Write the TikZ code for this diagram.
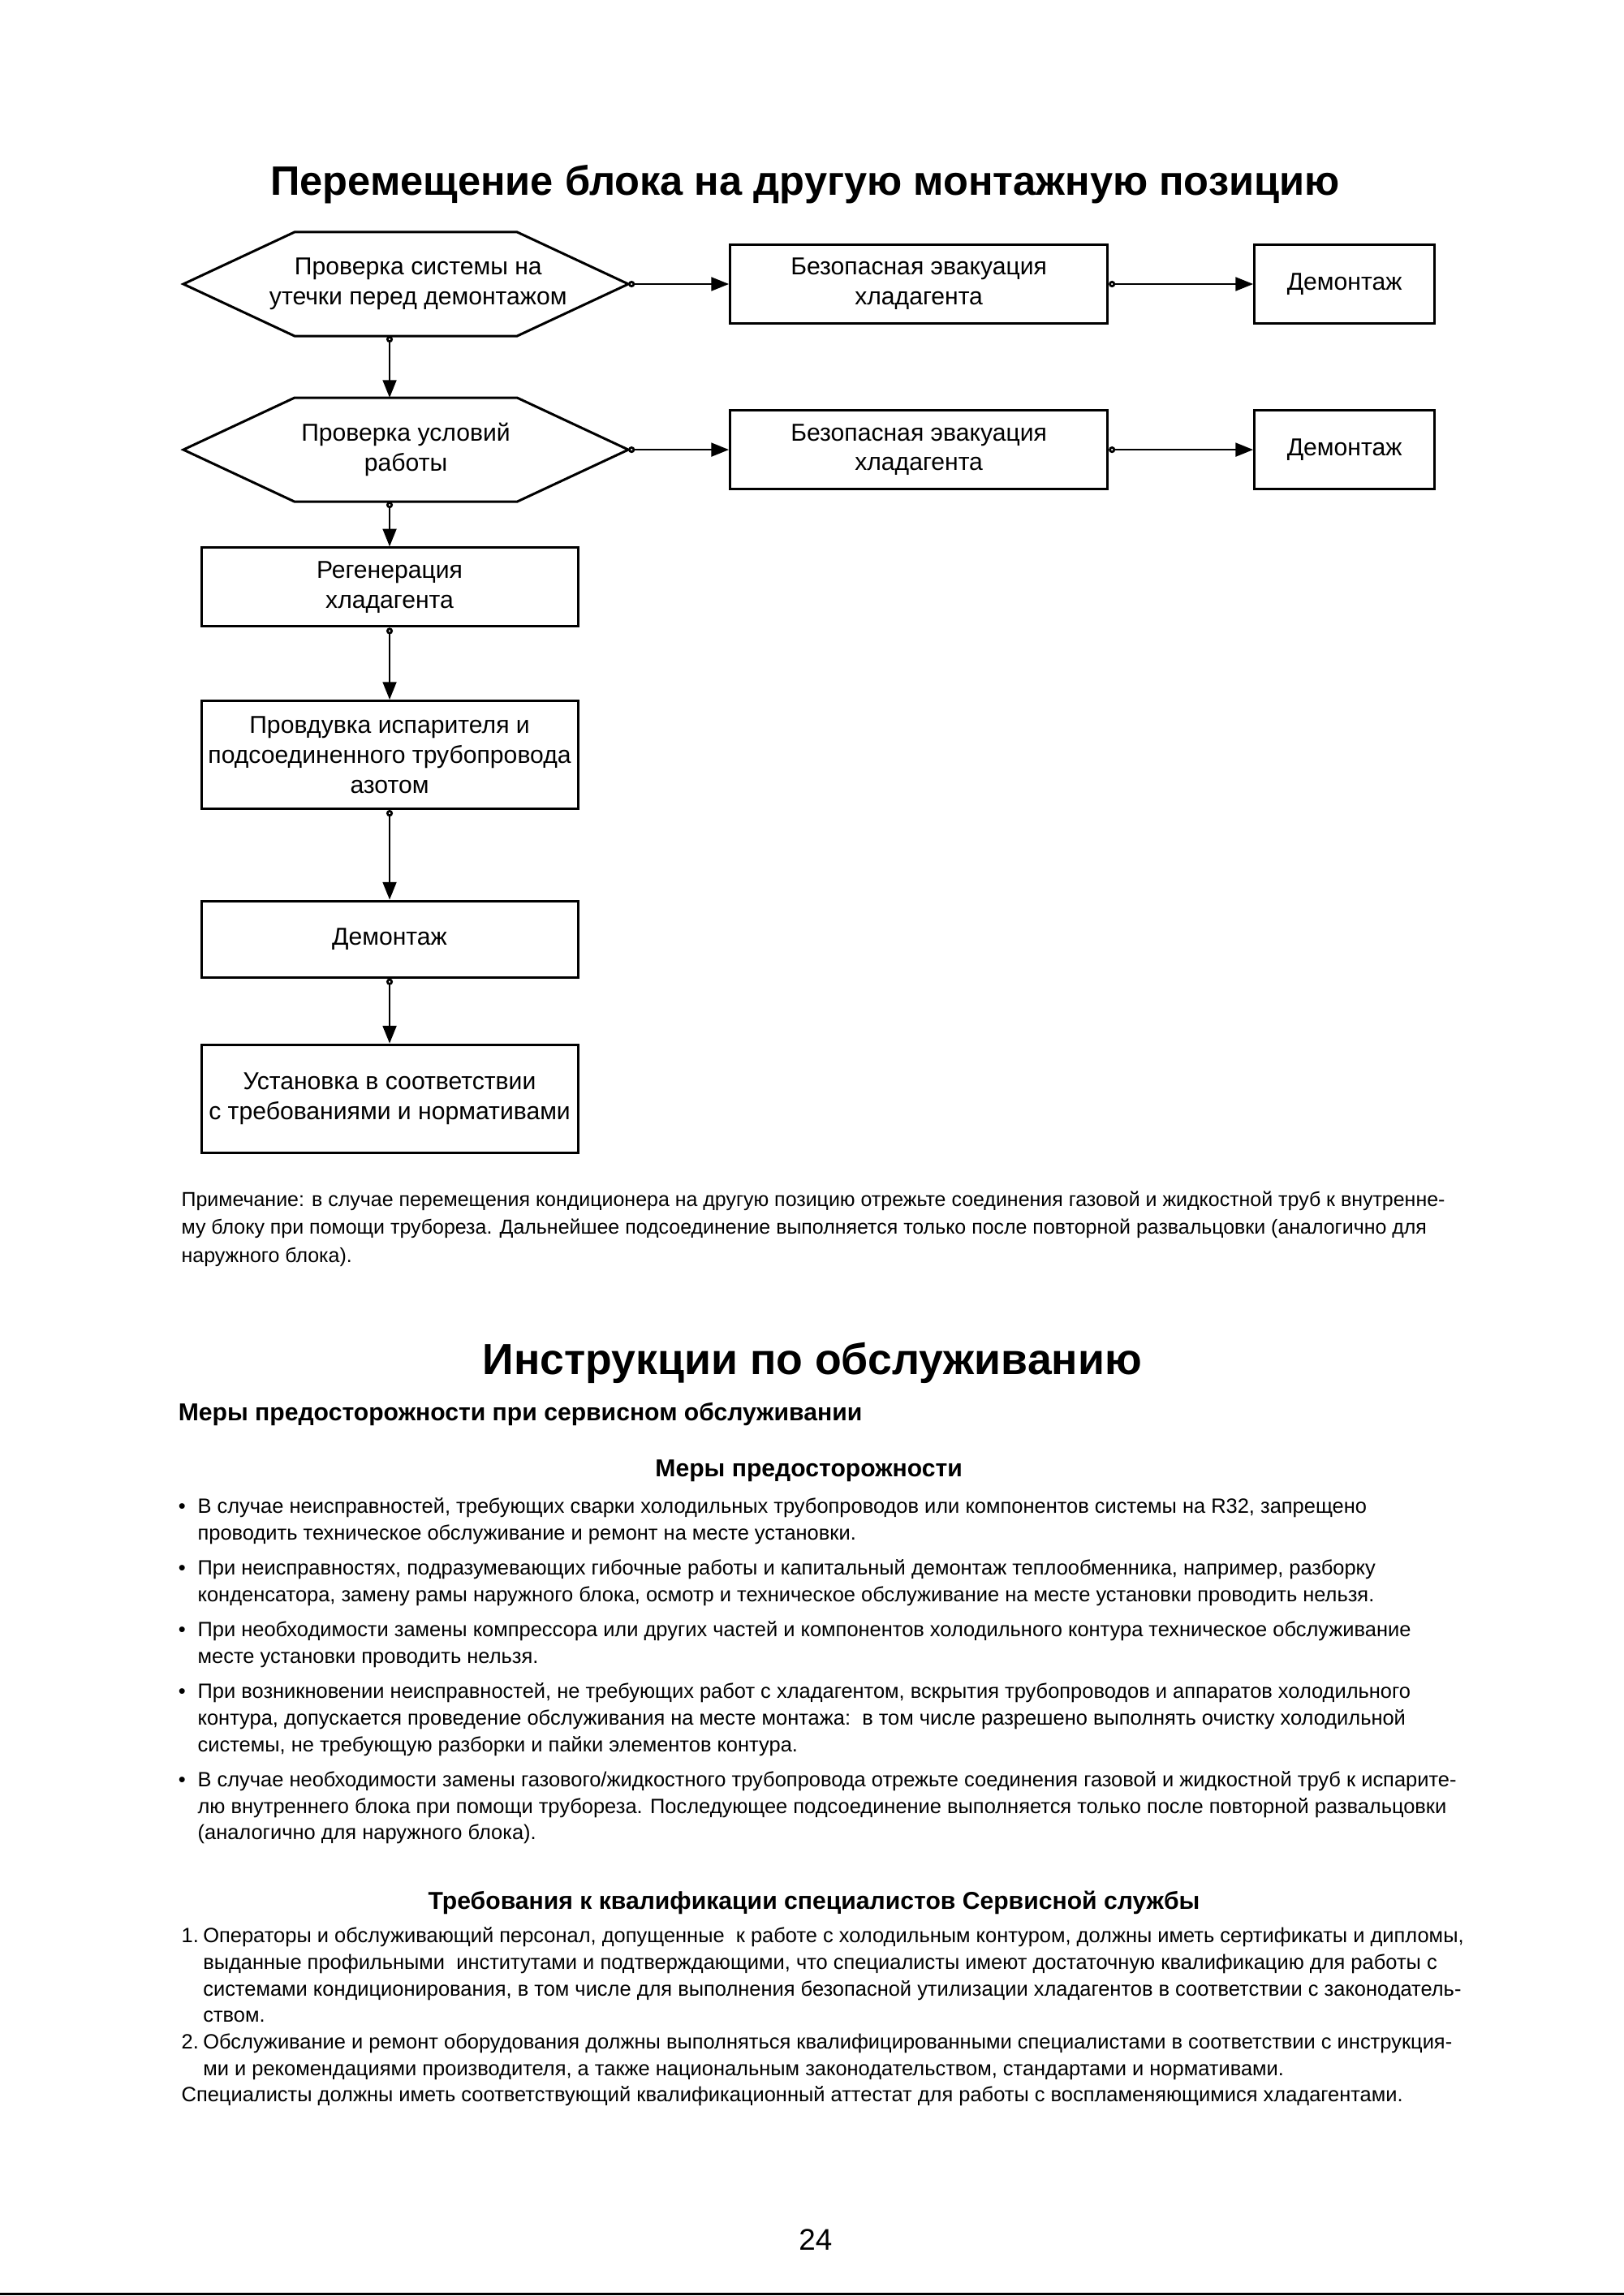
\documentclass[tikz,border=0pt]{standalone}
\usepackage{fontspec}
\setmainfont{Liberation Sans}
\usetikzlibrary{arrows.meta,positioning}

\newcommand{\fcfont}{\fontsize{9}{11}\selectfont}
\newcommand{\txtfont}{\fontsize{7.6}{9.75}\selectfont}
\newcommand{\notefont}{\fontsize{7.45}{10.3}\selectfont}
\newcommand{\bul}{\makebox[2.5mm][l]{\textbullet}}
\newcommand{\ind}{\hspace*{2.5mm}}
\newcommand{\nr}[1]{\makebox[2.8mm][l]{#1}}
\newcommand{\nind}{\hspace*{2.8mm}}
% контур шестиугольника вокруг узла
\newcommand{\hexframe}[1]{\draw[line width=0.9pt] (#1.west) -- ([xshift=1.438cm]#1.north west) -- ([xshift=-1.438cm]#1.north east) -- (#1.east) -- ([xshift=-1.438cm]#1.south east) -- ([xshift=1.438cm]#1.south west) -- cycle;}

\begin{document}
\begin{tikzpicture}[
  hexnode/.style={rectangle, minimum width=5.74cm, minimum height=1.33cm, inner sep=0pt, align=center, font=\fcfont},
  stepnode/.style={rectangle, draw, line width=0.9pt, minimum width=4.87cm, inner sep=0pt, align=center, font=\fcfont},
  evacnode/.style={stepnode, minimum width=4.88cm, minimum height=1.01cm},
  demnode/.style={stepnode, minimum width=2.33cm, minimum height=1.01cm},
  arrow/.style={{Circle[open,length=2.4pt,width=2.4pt]}-{Triangle[length=6.5pt,width=5pt]}, line width=0.8pt},
  para/.style={anchor=base west, inner sep=0pt, align=left, font=\txtfont},
  headline/.style={anchor=base, inner sep=0pt, font=\bfseries\fontsize{9}{11}\selectfont}
]
\useasboundingbox (0,0) rectangle (21.0,-29.69);

% заголовок
\node[anchor=base, inner sep=0pt, font=\bfseries\fontsize{15.1}{17}\selectfont] (title1) at (10.41,-2.519) {Перемещение блока на другую монтажную позицию};

% блок-схема
\node[hexnode] (hex1) at (5.248,-3.673) {\hspace*{0.32cm}Проверка системы на\\\hspace*{0.32cm}утечки перед демонтажом};
\node[evacnode, right=1.301cm of hex1] (evac1) {Безопасная эвакуация\\хладагента};
\node[demnode, right=1.868cm of evac1] (dem1) {Демонтаж};
\node[hexnode, below=0.798cm of hex1] (hex2) {Проверка условий\\работы};
\node[evacnode, right=1.301cm of hex2] (evac2) {Безопасная эвакуация\\хладагента};
\node[demnode, right=1.868cm of evac2] (dem2) {Демонтаж};
\node[stepnode, minimum height=1.018cm, below=0.58cm of hex2, xshift=-0.21cm] (regen) {Регенерация\\хладагента};
\node[stepnode, minimum height=1.396cm, below=0.93cm of regen] (purge) {Провдувка испарителя и\\подсоединенного трубопровода\\азотом};
\node[stepnode, minimum height=0.987cm, below=1.16cm of purge] (dem3) {Демонтаж};
\node[stepnode, minimum height=1.396cm, below=0.84cm of dem3] (install) {Установка в соответствии\\с требованиями и нормативами};
\hexframe{hex1}
\hexframe{hex2}

% стрелки
\draw[arrow] (hex1.east) -- (evac1.west);
\draw[arrow] (evac1.east) -- (dem1.west);
\draw[arrow] (hex2.east) -- (evac2.west);
\draw[arrow] (evac2.east) -- (dem2.west);
\draw[arrow] (hex1.south -| regen.north) -- (hex2.north -| regen.north);
\draw[arrow] (hex2.south -| regen.north) -- (regen.north);
\draw[arrow] (regen.south) -- (purge.north);
\draw[arrow] (purge.south) -- (dem3.north);
\draw[arrow] (dem3.south) -- (install.north);

% примечание (base = последняя строка)
\node[para, font=\notefont] (note) at (2.34,-16.32) {Примечание: в случае перемещения кондиционера на другую позицию отрежьте соединения газовой и жидкостной труб к внутренне-\\
му блоку при помощи трубореза. Дальнейшее подсоединение выполняется только после повторной развальцовки (аналогично для\\
наружного блока).};

% инструкции
\node[anchor=base, inner sep=0pt, font=\bfseries\fontsize{16}{19}\selectfont] (title2) at (10.505,-17.768) {Инструкции по обслуживанию};
\node[headline, anchor=base west] (sub1) at (2.30,-18.366) {Меры предосторожности при сервисном обслуживании};
\node[headline] (sub2) at (10.46,-19.10) {Меры предосторожности};

\node[para] (rules) at (2.30,-23.79) {\bul В случае неисправностей, требующих сварки холодильных трубопроводов или компонентов системы на R32, запрещено\\
\ind проводить техническое обслуживание и ремонт на месте установки.\\[3.2pt]
\bul При неисправностях, подразумевающих гибочные работы и капитальный демонтаж теплообменника, например, разборку\\
\ind конденсатора, замену рамы наружного блока, осмотр и техническое обслуживание на месте установки проводить нельзя.\\[3.2pt]
\bul При необходимости замены компрессора или других частей и компонентов холодильного контура техническое обслуживание\\
\ind месте установки проводить нельзя.\\[3.2pt]
\bul При возникновении неисправностей, не требующих работ с хладагентом, вскрытия трубопроводов и аппаратов холодильного\\
\ind контура, допускается проведение обслуживания на месте монтажа:\ \ в том числе разрешено выполнять очистку холодильной\\
\ind системы, не требующую разборки и пайки элементов контура.\\[3.2pt]
\bul В случае необходимости замены газового/жидкостного трубопровода отрежьте соединения газовой и жидкостной труб к испарите-\\
\ind лю внутреннего блока при помощи трубореза. Последующее подсоединение выполняется только после повторной развальцовки\\
\ind (аналогично для наружного блока).};

\node[headline] (sub3) at (10.527,-24.684) {Требования к квалификации специалистов Сервисной службы};

\node[para] (quals) at (2.34,-27.18) {\nr{1.}Операторы и обслуживающий персонал, допущенные\ \ к работе с холодильным контуром, должны иметь сертификаты и дипломы,\\
\nind выданные профильными\ \ институтами и подтверждающими, что специалисты имеют достаточную квалификацию для работы с\\
\nind системами кондиционирования, в том числе для выполнения безопасной утилизации хладагентов в соответствии с законодатель-\\
\nind ством.\\
\nr{2.}Обслуживание и ремонт оборудования должны выполняться квалифицированными специалистами в соответствии с инструкция-\\
\nind ми и рекомендациями производителя, а также национальным законодательством, стандартами и нормативами.\\
Специалисты должны иметь соответствующий квалификационный аттестат для работы с воспламеняющимися хладагентами.};

% номер страницы
\node[anchor=base, inner sep=0pt, font=\fontsize{11}{13}\selectfont] (pagenum) at (10.547,-29.092) {24};
\draw[line width=0.8pt] (0,-29.66) -- (21.0,-29.66);

\end{tikzpicture}
\end{document}
